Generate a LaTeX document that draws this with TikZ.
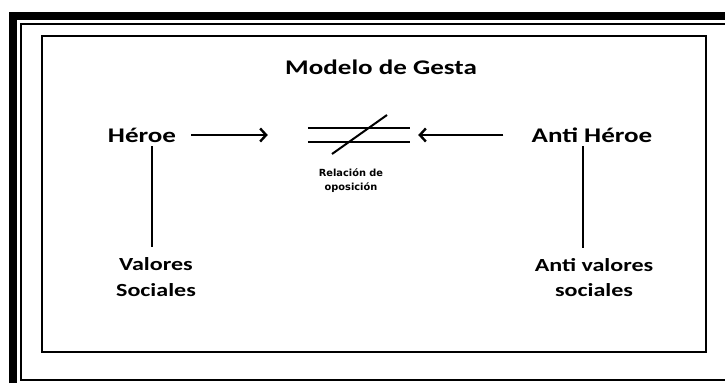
\documentclass[tikz,border=0pt]{standalone}
\usepackage{fontspec}
\setmainfont{Carlito}[FakeStretch=1.3]
\newfontfamily\relfont{DejaVu Sans}
\usetikzlibrary{arrows.meta}
\begin{document}
\begin{tikzpicture}[x=1pt,y=-1pt,
  lbl/.style={font=\bfseries\fontsize{20.8}{25}\selectfont, inner sep=0pt, anchor=base},
  sub/.style={font=\bfseries\fontsize{18.5}{25.5}\selectfont, inner sep=0pt, align=center, anchor=base},
  small/.style={font=\relfont\bfseries\fontsize{9.8}{14.5}\selectfont, inner sep=0pt, align=center, anchor=base},
  ln/.style={line width=2pt},
  arr/.style={line width=2pt, -{Straight Barb[length=6pt,width=13pt,line width=2.4pt]}}]
\useasboundingbox (0,0) rectangle (725,383);
\fill[white] (0,0) rectangle (725,383);
% frames
\draw[line width=8pt] (12.5,383) -- (12.5,16) -- (725,16);
\draw[line width=2pt] (725,24) -- (20.5,24) -- (20.5,380) -- (725,380);
\draw[line width=2pt] (42,36) rectangle (706,352);
% texts
\node[lbl] (title) at (381,74) {Modelo de Gesta};
\node[lbl] (heroe) at (142,142) {Héroe};
\node[lbl] (anti) at (592,142) {Anti Héroe};
\node[sub] (valores) at (156,296) {Valores\\Sociales};
\node[sub] (antival) at (594,296.5) {Anti valores\\sociales};
% opposition symbol
\node[inner sep=0pt, minimum width=102pt, minimum height=14pt] (sym) at (359,135) {};
\draw[ln] (sym.north west) -- (sym.north east);
\draw[ln] (sym.south west) -- (sym.south east);
\draw[ln] ([shift={(-27,19)}]sym.center) -- ([shift={(28,-20)}]sym.center);
\node[small] (rel) at (351,190.5) {Relación de\\oposición};
% connectors
\draw[arr] ([xshift=15pt]heroe.east |- sym.center) -- ([xshift=-40pt]sym.west);
\draw[arr] ([xshift=-28pt]anti.west |- sym.center) -- ([xshift=8pt]sym.east);
\draw[ln] (heroe.south -| 152,0) ++(0,4) -- ([yshift=10pt]valores.north -| 152,0);
\draw[ln] (anti.south -| 583,0) ++(0,4) -- ([yshift=10pt]antival.north -| 583,0);
\end{tikzpicture}
\end{document}
